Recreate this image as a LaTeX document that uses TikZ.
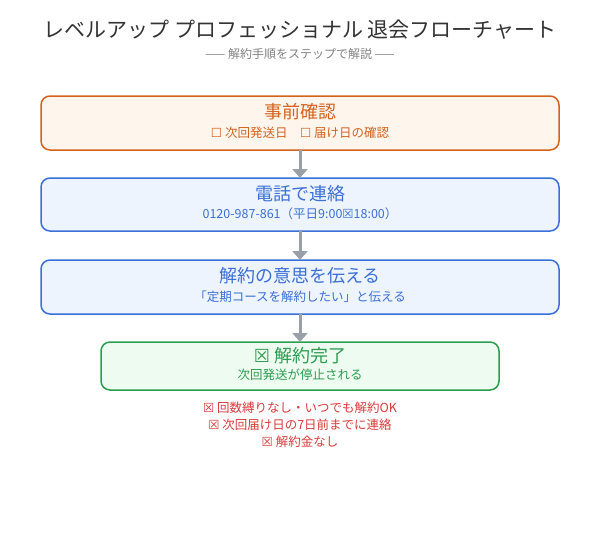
\documentclass[tikz,border=0pt]{standalone}
\usepackage{fontspec}
\setmainfont{Noto Sans CJK JP}
\newfontfamily\symf{DejaVu Sans}
\newcommand{\bx}{{\symf ☒}}
\newcommand{\ebx}{{\symf ☐}}
\usetikzlibrary{arrows.meta}
\definecolor{orng}{HTML}{D4621E}
\definecolor{orngbg}{HTML}{FEF5EC}
\definecolor{blu}{HTML}{3A6FD8}
\definecolor{blubg}{HTML}{EEF4FE}
\definecolor{grn}{HTML}{2A9D4E}
\definecolor{grnbg}{HTML}{EEFBF1}
\definecolor{rd}{HTML}{D93A3A}
\definecolor{arr}{HTML}{9AA0A8}
\tikzset{
 stepbox/.style={draw, line width=1.5pt, rounded corners=9pt},
 conn/.style={draw=arr, line width=3pt, -{Triangle[length=9pt,width=15pt]}},
 ttl/.style={font=\fontsize{18}{20}\selectfont},
 sub/.style={font=\fontsize{12.5}{14}\selectfont},
}
\begin{document}
\begin{tikzpicture}[x=1pt,y=-1pt]
\useasboundingbox (0,0) rectangle (600,557);
\node[font=\fontsize{21}{24}\selectfont, text=black!80] (title) at (300,30) {レベルアップ プロフェッショナル 退会フローチャート};
\node[font=\fontsize{12}{14}\selectfont, text=gray] (subt) at (300,54) {—— 解約手順をステップで解説 ——};
\path[stepbox, draw=orng, fill=orngbg] (41,96) rectangle (559,150);
\node[ttl, text=orng] (b1) at (300,112) {事前確認};
\node[sub, text=orng] (b1s) at (300,133) {\ebx\ 次回発送日\quad \ebx\ 届け日の確認};
\coordinate (b1b) at (300,150);
\path[stepbox, draw=blu, fill=blubg] (41,178) rectangle (559,231);
\node[ttl, text=blu] (b2) at (300,194) {電話で連絡};
\node[sub, text=blu] (b2s) at (300,214) {0120-987-861（平日9:00\bx 18:00）};
\coordinate (b2t) at (300,178); \coordinate (b2b) at (300,231);
\path[stepbox, draw=blu, fill=blubg] (41,260) rectangle (559,314);
\node[ttl, text=blu] (b3) at (300,276) {解約の意思を伝える};
\node[sub, text=blu] (b3s) at (300,297) {「定期コースを解約したい」と伝える};
\coordinate (b3t) at (300,260); \coordinate (b3b) at (300,314);
\path[stepbox, draw=grn, fill=grnbg] (101,342) rectangle (499,390);
\node[ttl, text=grn] (b4) at (300,356) {\bx\ 解約完了};
\node[sub, text=grn] (b4s) at (300,375) {次回発送が停止される};
\coordinate (b4t) at (300,342);
\draw[conn] (b1b) -- (b2t);
\draw[conn] (b2b) -- (b3t);
\draw[conn] (b3b) -- (b4t);
\node[sub, text=rd] (n1) at (300,408) {\bx\ 回数縛りなし・いつでも解約OK};
\node[sub, text=rd] (n2) at (300,425) {\bx\ 次回届け日の7日前までに連絡};
\node[sub, text=rd] (n3) at (300,442) {\bx\ 解約金なし};
\end{tikzpicture}
\end{document}
